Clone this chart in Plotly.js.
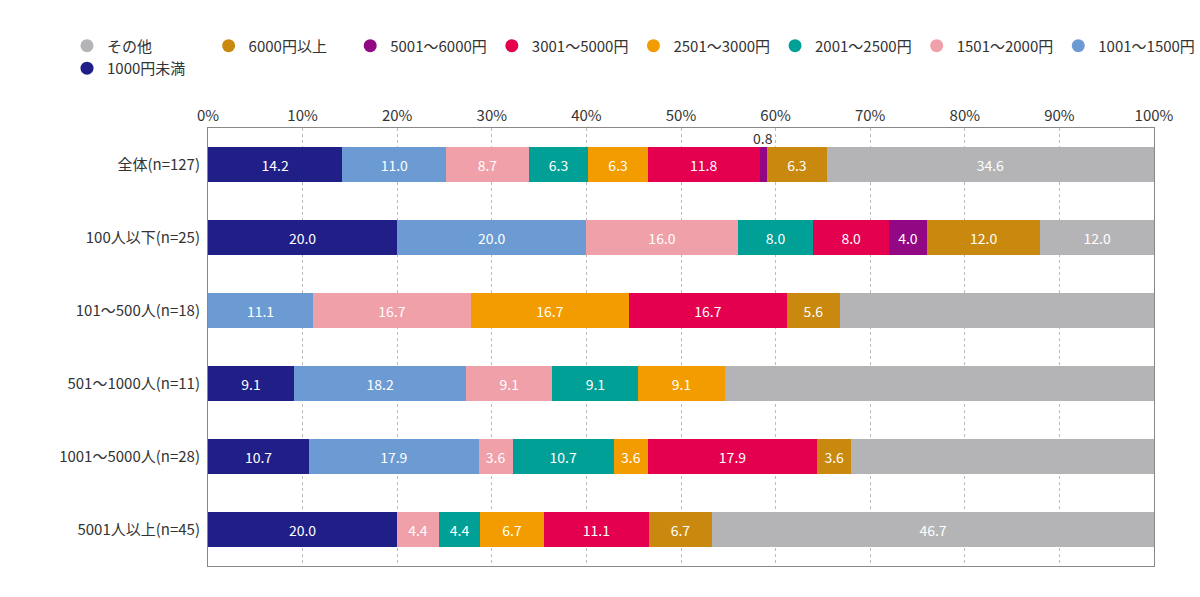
<!DOCTYPE html>
<html><head><meta charset="utf-8">
<script src="https://cdn.plot.ly/plotly-3.0.1.min.js"></script>
<style>body{margin:0}#chart{width:1200px;height:597px}</style>
</head><body><div id="chart"></div>
<script>
var categories = ['全体(n=127)', '100人以下(n=25)', '101～500人(n=18)', '501～1000人(n=11)', '1001～5000人(n=28)', '5001人以上(n=45)'];
var seriesNames = ['1000円未満', '1001～1500円', '1501～2000円', '2001～2500円', '2501～3000円', '3001～5000円', '5001～6000円', '6000円以上', 'その他'];
var seriesColors = ['#1f1f87', '#6b9bd2', '#f0a0a8', '#00a096', '#f39c00', '#e4004f', '#920783', '#c9890e', '#b4b4b6'];
var s1 = [14.2, 20.0, 0, 9.1, 10.7, 20.0];
var s2 = [11.0, 20.0, 11.1, 18.2, 17.9, 0];
var s3 = [8.7, 16.0, 16.7, 9.1, 3.6, 4.4];
var s4 = [6.3, 8.0, 0, 9.1, 10.7, 4.4];
var s5 = [6.3, 0, 16.7, 9.1, 3.6, 6.7];
var s6 = [11.8, 8.0, 16.7, 0, 17.9, 11.1];
var s7 = [0.8, 4.0, 0, 0, 0, 0];
var s8 = [6.3, 12.0, 5.6, 0, 3.6, 6.7];
var s9 = [34.6, 12.0, 33.3, 45.5, 32.1, 46.7];
var series = [s1, s2, s3, s4, s5, s6, s7, s8, s9];

var traces = [];
var annotations = [];
series.forEach(function (vals, k) {
  traces.push({
    type: 'bar', orientation: 'h', y: categories, x: vals,
    marker: {color: seriesColors[k]}, width: 0.47,
    text: vals.map(function (v) { return v >= 2 ? v.toFixed(1) : ''; }),
    textposition: 'inside', insidetextanchor: 'middle',
    textfont: {color: '#fff', size: 14}, hoverinfo: 'x', showlegend: false,
    cliponaxis: false
  });
  // small values are labelled above the bar
  vals.forEach(function (v, i) {
    if (v > 0 && v < 2) {
      var start = 0;
      for (var j = 0; j < k; j++) start += series[j][i];
      annotations.push({x: start + v / 2, y: categories[i], yshift: 27, text: v.toFixed(1),
        showarrow: false, font: {size: 14, color: '#333'}});
    }
  });
  traces.push({
    type: 'scatter', mode: 'markers', x: [null], y: [null], name: seriesNames[k],
    marker: {color: seriesColors[k], size: 13, symbol: 'circle'}
  });
});

var layout = {
  barmode: 'stack', bargap: 0.5,
  margin: {l: 208, r: 46, t: 128, b: 31},
  paper_bgcolor: '#fff', plot_bgcolor: '#fff',
  font: {family: 'Noto Sans CJK JP, sans-serif', size: 15, color: '#333'},
  xaxis: {range: [0, 100], side: 'top', dtick: 10, ticksuffix: '%', showgrid: true,
    gridcolor: '#bbb', griddash: 'dot', zeroline: false, showline: true, mirror: true,
    linecolor: '#888', linewidth: 1, ticks: '', fixedrange: true},
  yaxis: {autorange: 'reversed', showline: true, mirror: true, linecolor: '#888',
    ticks: '', ticklabelstandoff: 4},
  legend: {orientation: 'h', x: -0.015, y: 1.225, xanchor: 'left', yanchor: 'top',
    font: {size: 15}, itemwidth: 20, tracegroupgap: 0},
  annotations: annotations,
  showlegend: true
};
Plotly.newPlot('chart', traces, layout, {displayModeBar: false});
</script></body></html>
